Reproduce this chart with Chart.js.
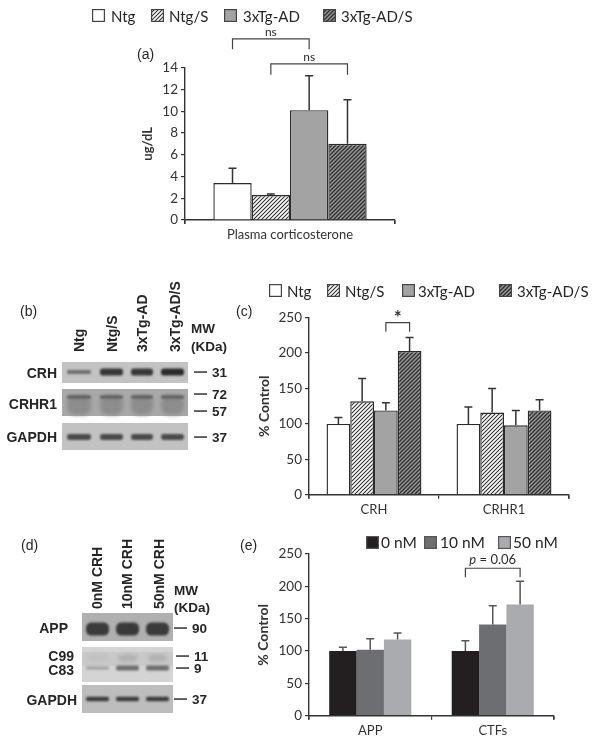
<!DOCTYPE html>
<html>
<head>
<meta charset="utf-8">
<style>
html, body { margin: 0; padding: 0; background: #fff; }
#page { position: relative; width: 602px; height: 744px; overflow: hidden; filter: blur(0.35px); }
#page canvas { position: absolute; }
.t { position: absolute; white-space: nowrap; color: #262626; line-height: 1; }
</style>
<script src="https://cdn.jsdelivr.net/npm/chart.js@4/dist/chart.umd.js"></script>
</head>
<body>
<div id="page"><canvas id="blots" width="240" height="744" style="left:0;top:0"></canvas></div>
<script>
'use strict';

// panel (a) plasma corticosterone
const labelsA = ['Plasma corticosterone'];
const ntgA = [3.4];
const ntgSA = [2.3];
const adA = [10.1];
const adSA = [7.0];
const ntgTopA = [4.75];
const ntgSTopA = [2.4];
const adTopA = [13.25];
const adSTopA = [11.05];

// panel (c)
const labelsC = ['CRH', 'CRHR1'];
const ntgC = [100, 100];
const ntgSC = [132, 116];
const adC = [119, 98];
const adSC = [203, 119];
const ntgTopC = [109, 124];
const ntgSTopC = [164, 150];
const adTopC = [130, 119];
const adSTopC = [222, 134];

// panel (e)
const labelsE = ['APP', 'CTFs'];
const nm0E = [100, 100];
const nm10E = [102, 141];
const nm50E = [118, 172];
const nm0TopE = [106, 116];
const nm10TopE = [119, 170];
const nm50TopE = [128, 208];

const groupNames = ['Ntg', 'Ntg/S', '3xTg-AD', '3xTg-AD/S'];
const doseNames = ['0 nM', '10 nM', '50 nM'];

const page = document.getElementById('page');
const inkColor = '#2c2c2c';
const sansFont = 'Lato';
const blotFont = '"Liberation Sans"';

function hatch(bg, fg, lineWidth) {
    const s = 4;
    const tile = document.createElement('canvas');
    tile.width = s;
    tile.height = s;
    const c = tile.getContext('2d');
    c.fillStyle = bg;
    c.fillRect(0, 0, s, s);
    c.strokeStyle = fg;
    c.lineWidth = lineWidth;
    c.beginPath();
    c.moveTo(-1, s + 1);
    c.lineTo(s + 1, -1);
    c.moveTo(-1, 1);
    c.lineTo(1, -1);
    c.moveTo(s - 1, s + 1);
    c.lineTo(s + 1, s - 1);
    c.stroke();
    return c.createPattern(tile, 'repeat');
}

const groupFills = ['#ffffff', hatch('#ffffff', '#333333', 1.1), '#a3a3a3', hatch('#959595', '#303030', 1.3)];
const doseFills = ['#231f20', '#6d6e71', '#a9abae'];

function text(str, x, y, opts) {
    const o = opts || {};
    const d = document.createElement('div');
    d.className = 't';
    d.textContent = str;
    d.style.left = x + 'px';
    d.style.top = y + 'px';
    d.style.fontFamily = o.font || blotFont;
    d.style.fontSize = (o.size || 13) + 'px';
    d.style.fontWeight = o.bold ? 'bold' : 'normal';
    // x,y is the anchor: left/right edge or centre, vertically centred
    let tx = '0';
    if (o.align === 'right') tx = '-100%';
    if (o.align === 'center') tx = '-50%';
    d.style.transform = `translate(${tx}, -50%)`;
    if (o.rot) {
        // rotated labels read bottom to top, anchored at their bottom end
        d.style.transformOrigin = '0 50%';
        d.style.transform = 'translate(0, -50%) rotate(-90deg)';
    }
    page.appendChild(d);
}

function legend(names, fills, swatchX, textX, y, size, border) {
    names.forEach((name, i) => {
        const box = document.createElement('canvas');
        box.width = 13;
        box.height = 13;
        box.style.left = swatchX[i] + 'px';
        box.style.top = (y - 7) + 'px';
        const c = box.getContext('2d');
        c.fillStyle = fills[i];
        c.fillRect(0.5, 0.5, 12, 12);
        c.strokeStyle = border;
        c.lineWidth = 1.2;
        c.strokeRect(0.6, 0.6, 11.8, 11.8);
        page.appendChild(box);
        text(name, textX[i], y, { font: sansFont, size: size });
    });
}

const annotate = {
    id: 'annotate',
    afterDatasetsDraw(chart, args, opts) {
        const ctx = chart.ctx;
        const yScale = chart.scales.y;
        const area = chart.chartArea;
        ctx.save();
        ctx.strokeStyle = opts.errColor;
        ctx.fillStyle = inkColor;
        ctx.lineWidth = 1.5;
        opts.tops.forEach((tops, d) => {
            chart.getDatasetMeta(d).data.forEach((bar, i) => {
                const yTop = yScale.getPixelForValue(tops[i]);
                ctx.beginPath();
                ctx.moveTo(bar.x, bar.y);
                ctx.lineTo(bar.x, yTop);
                ctx.moveTo(bar.x - 4, yTop);
                ctx.lineTo(bar.x + 4, yTop);
                ctx.stroke();
            });
        });
        // end ticks of the category axis, a single category gets none by itself
        ctx.strokeStyle = '#333';
        ctx.lineWidth = 1.2;
        ctx.beginPath();
        ctx.moveTo(area.right, area.bottom);
        ctx.lineTo(area.right, area.bottom + 4);
        ctx.moveTo(area.left, area.bottom);
        ctx.lineTo(area.left, area.bottom + 4);
        ctx.stroke();
        ctx.strokeStyle = '#444';
        opts.brackets.forEach(b => {
            const x0 = chart.getDatasetMeta(b.from).data[b.group].x;
            const x1 = chart.getDatasetMeta(b.to).data[b.group].x;
            const yTop = yScale.getPixelForValue(b.top);
            const yLow = yScale.getPixelForValue(b.low);
            ctx.beginPath();
            ctx.moveTo(x0, yLow);
            ctx.lineTo(x0, yTop);
            ctx.lineTo(x1, yTop);
            ctx.lineTo(x1, yLow);
            ctx.stroke();
            ctx.textBaseline = 'middle';
            const mid = (x0 + x1) / 2;
            const y = yTop + b.dy;
            if (b.italic) {
                ctx.font = b.font;
                const restW = ctx.measureText(b.label).width;
                ctx.font = 'italic ' + b.font;
                const itW = ctx.measureText(b.italic).width;
                ctx.textAlign = 'left';
                const x = mid - (restW + itW) / 2;
                ctx.fillText(b.italic, x, y);
                ctx.font = b.font;
                ctx.fillText(b.label, x + itW, y);
            } else {
                ctx.textAlign = 'center';
                ctx.font = b.font;
                ctx.fillText(b.label, mid, y);
            }
        });
        ctx.restore();
    }
};

function barChart(cfg) {
    const canvas = document.createElement('canvas');
    canvas.width = cfg.box.w;
    canvas.height = cfg.box.h;
    canvas.style.left = cfg.box.x + 'px';
    canvas.style.top = cfg.box.y + 'px';
    page.appendChild(canvas);
    return new Chart(canvas, {
        type: 'bar',
        data: {
            labels: cfg.labels,
            datasets: cfg.series.map((values, i) => ({
                label: cfg.names[i],
                data: values,
                backgroundColor: cfg.fills[i],
                borderColor: '#2b2b2b',
                borderWidth: cfg.barBorder,
                categoryPercentage: cfg.groupWidth,
                barPercentage: 1
            }))
        },
        options: {
            responsive: false,
            animation: false,
            layout: { padding: { left: 0, right: 20, top: cfg.padTop, bottom: 0 } },
            scales: {
                x: {
                    afterFit: s => { s.height = cfg.xHeight; },
                    border: { color: '#333', width: 1.4 },
                    grid: { offset: true, drawOnChartArea: false, color: '#333', lineWidth: 1.2, tickLength: 4 },
                    ticks: { color: '#333', font: { family: sansFont, size: 13 }, padding: 3, maxRotation: 0 }
                },
                y: {
                    min: 0,
                    max: cfg.yMax,
                    afterFit: s => { s.width = 60; },
                    border: { color: '#333', width: 1.4 },
                    grid: { drawOnChartArea: false, color: '#333', lineWidth: 1.2, tickLength: 4 },
                    ticks: { stepSize: cfg.yStep, color: '#333', font: { family: sansFont, size: 13.5 }, padding: 3 },
                    title: {
                        display: true,
                        text: cfg.yTitle,
                        color: '#333',
                        font: { family: sansFont, size: cfg.titleSize, weight: 'bold' },
                        padding: { top: cfg.titlePad, bottom: 0 }
                    }
                }
            },
            plugins: {
                legend: { display: false },
                tooltip: { enabled: false },
                annotate: { tops: cfg.tops, brackets: cfg.brackets, errColor: cfg.errColor }
            }
        },
        plugins: [annotate]
    });
}

barChart({
    box: { x: 125, y: 24, w: 290, h: 222 },
    padTop: 43.7, xHeight: 26, titlePad: 15, titleSize: 13,
    labels: labelsA, names: groupNames, fills: groupFills,
    series: [ntgA, ntgSA, adA, adSA],
    tops: [ntgTopA, ntgSTopA, adTopA, adSTopA],
    yMax: 14, yStep: 2, yTitle: 'ug/dL', groupWidth: 0.73, barBorder: 1.4, errColor: '#333',
    brackets: [
        { group: 0, from: 0, to: 2, top: 16.65, low: 15.7, label: 'ns', font: '12px Lato', dy: -7 },
        { group: 0, from: 1, to: 3, top: 14.35, low: 13.35, label: 'ns', font: '12px Lato', dy: -7 }
    ]
});

barChart({
    box: { x: 249, y: 300, w: 340, h: 222 },
    padTop: 17.7, xHeight: 27.3, titlePad: 6.6, titleSize: 14,
    labels: labelsC, names: groupNames, fills: groupFills,
    series: [ntgC, ntgSC, adC, adSC],
    tops: [ntgTopC, ntgSTopC, adTopC, adSTopC],
    yMax: 250, yStep: 50, yTitle: '% Control', groupWidth: 0.73, barBorder: 1.4, errColor: '#333',
    brackets: [
        { group: 0, from: 2, to: 3, top: 243, low: 230, label: '*', font: 'bold 18px Lato', dy: -4 }
    ]
});

barChart({
    box: { x: 249, y: 535, w: 325, h: 209 },
    padTop: 19, xHeight: 28.3, titlePad: 5.6, titleSize: 14,
    labels: labelsE, names: doseNames, fills: doseFills,
    series: [nm0E, nm10E, nm50E],
    tops: [nm0TopE, nm10TopE, nm50TopE],
    yMax: 250, yStep: 50, yTitle: '% Control', groupWidth: 0.67, barBorder: 0, errColor: '#555',
    brackets: [
        { group: 1, from: 0, to: 2, top: 228, low: 214, italic: 'p', label: ' = 0.06', font: '13px Lato', dy: -8 }
    ]
});

legend(groupNames, groupFills, [92, 151, 224, 323], [111, 169, 243, 341], 16, 15, '#444');
legend(groupNames, groupFills, [269, 327, 402, 499], [287, 345, 418, 517], 291, 15, '#444');
legend(doseNames, doseFills, [366, 424, 498], [381, 440, 513], 543, 15.5, '#555');

// panel letters
text('(a)', 137, 54, { size: 14 });
text('(b)', 20, 311, { size: 14 });
text('(c)', 236, 311, { size: 14 });
text('(d)', 21, 545, { size: 14 });
text('(e)', 240, 545, { size: 14 });

// western blots, panel (b) and (d)
const bx = document.getElementById('blots').getContext('2d');

function panel(x0, y0, x1, y1, color) {
    bx.filter = 'blur(0.6px)';
    bx.fillStyle = color;
    bx.fillRect(x0, y0, x1 - x0, y1 - y0);
    bx.filter = 'none';
}

function band(x0, x1, y, h, color, blur) {
    bx.filter = `blur(${blur}px)`;
    bx.fillStyle = color;
    bx.beginPath();
    bx.roundRect(x0, y - h / 2, x1 - x0, h, h / 2.5);
    bx.fill();
    bx.filter = 'none';
}

const lanesB = [[67, 91], [100, 123], [131, 153], [161, 184]];
const lanesD = [[86, 109], [116, 139], [146, 169]];

panel(62, 362, 188, 383, '#c3c3c3');
panel(62, 389, 188, 416, '#a9a9a9');
panel(62, 423, 188, 450, '#c2c2c2');
['#6e6e6e', '#363636', '#383838', '#2a2a2a'].forEach((c, i) => {
    band(lanesB[i][0], lanesB[i][1], 372, i === 0 ? 4 : 7, c, 1.2);
});
lanesB.forEach(l => {
    band(l[0], l[1], 405, 20, '#8c8c8c', 2);
    band(l[0], l[1], 397, 3, '#595959', 0.8);
    band(l[0], l[1], 437, 6, '#4a4a4a', 1.2);
});
panel(82, 613, 173, 641, '#b0b0b0');
panel(82, 647, 173, 682, '#d4d4d4');
panel(82, 652, 173, 666, '#c9c9c9');
panel(82, 685, 173, 713, '#bdbdbd');
lanesD.forEach((l, i) => {
    band(l[0], l[1], 629, 13, '#3a3a3a', 1.2);
    band(l[0] + 2, l[1] - 2, 658, 6, i === 0 ? '#c0c0c0' : '#adadad', 2);
    band(l[0], l[1], 668, i === 0 ? 3 : 5, i === 0 ? '#a0a0a0' : '#6c6c6c', 1.3);
    band(l[0], l[1], 699, 4.5, '#3c3c3c', 0.9);
});

const rowStyle = { bold: true, size: 14, align: 'right' };
const mwStyle = { bold: true, size: 13.5 };
const rotStyle = { bold: true, size: 14, rot: true };

text('Ntg', 79, 352, rotStyle);
text('Ntg/S', 112, 352, rotStyle);
text('3xTg-AD', 142, 352, rotStyle);
text('3xTg-AD/S', 175, 352, rotStyle);
text('MW', 191, 329, mwStyle);
text('(KDa)', 191, 347, mwStyle);
text('CRH', 57, 373, rowStyle);
text('CRHR1', 57, 404, rowStyle);
text('GAPDH', 57, 437, rowStyle);

text('0nM CRH', 97, 609, rotStyle);
text('10nM CRH', 127, 609, rotStyle);
text('50nM CRH', 159, 609, rotStyle);
text('MW', 174, 591, mwStyle);
text('(KDa)', 174, 608, mwStyle);
text('APP', 68, 628, rowStyle);
text('C99', 74, 656, rowStyle);
text('C83', 74, 670, rowStyle);
text('GAPDH', 77, 700, rowStyle);

function marker(x, y, label) {
    bx.fillStyle = '#333';
    bx.fillRect(x, y - 0.7, 13, 1.5);
    text(label, x + 18, y + 0.5, mwStyle);
}
marker(194, 372, '31');
marker(194, 394, '72');
marker(194, 411, '57');
marker(194, 437, '37');
marker(174, 628, '90');
marker(176, 656, '11');
marker(176, 668, '9');
marker(174, 699, '37');
</script>
</body>
</html>
